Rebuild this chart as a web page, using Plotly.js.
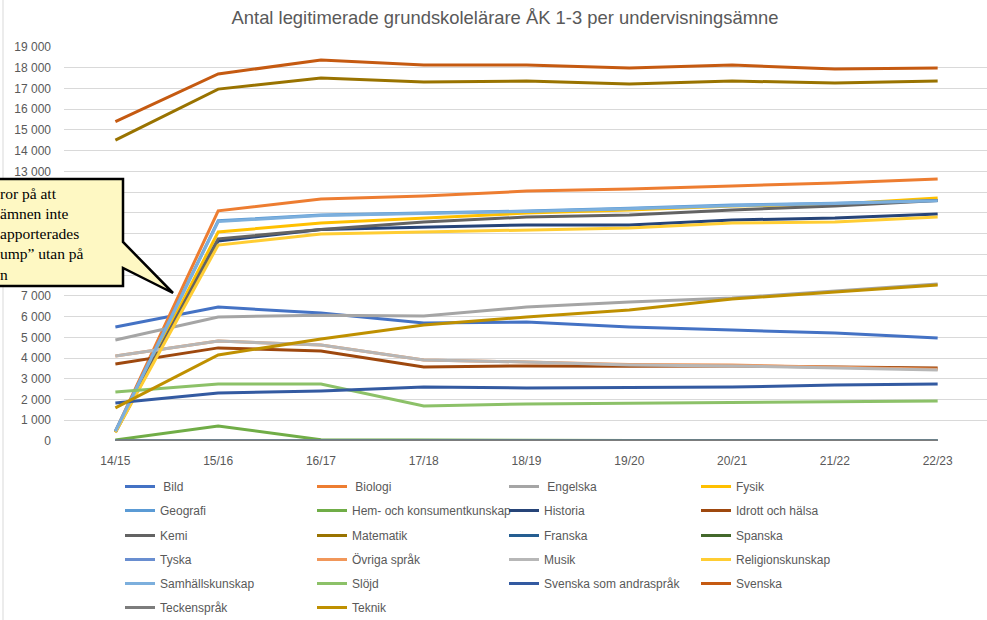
<!DOCTYPE html>
<html>
<head>
<meta charset="utf-8">
<script src="https://cdn.plot.ly/plotly-3.0.1.min.js"></script>
<style>
  html, body { margin: 0; padding: 0; background: #ffffff; }
  #chart { width: 987px; height: 620px; }
</style>
</head>
<body>
<div id="chart"></div>
<script>
// ---- Data ----
const categories = ['14/15', '15/16', '16/17', '17/18', '18/19', '19/20', '20/21', '21/22', '22/23'];

const bild            = [5500, 6460, 6170, 5690, 5740, 5500, 5350, 5210, 4970];
const biologi         = [460, 11100, 11670, 11810, 12050, 12150, 12300, 12440, 12630];
const engelska        = [4870, 5980, 6070, 6030, 6460, 6700, 6900, 7230, 7570];
const fysik           = [440, 10080, 10510, 10750, 10990, 11140, 11330, 11420, 11720];
const geografi        = [480, 10620, 10900, 10990, 11090, 11230, 11380, 11470, 11600];
const hemkonsument    = [50, 720, 60, 50, 40, 0, 0, 0, 0];
const historia        = [420, 9650, 10200, 10320, 10420, 10420, 10660, 10750, 10950];
const idrott          = [3710, 4490, 4340, 3570, 3620, 3600, 3620, 3580, 3520];
const kemi            = [430, 9750, 10200, 10560, 10800, 10900, 11140, 11330, 11600];
const matematik       = [14510, 16970, 17500, 17310, 17360, 17220, 17360, 17260, 17360];
const franska         = [0, 0, 0, 0, 0, 0, 0, 0, 0];
const spanska         = [0, 0, 0, 0, 0, 0, 0, 0, 0];
const tyska           = [0, 0, 0, 0, 0, 0, 0, 0, 0];
const ovrigaSprak     = [4100, 4820, 4630, 3910, 3810, 3690, 3660, 3560, 3460];
const musik           = [4100, 4820, 4630, 3910, 3810, 3670, 3620, 3520, 3420];
const religion        = [410, 9450, 9980, 10080, 10200, 10270, 10510, 10560, 10800];
const samhall         = [470, 10580, 10880, 10970, 11070, 11200, 11350, 11450, 11580];
const slojd           = [2360, 2750, 2750, 1690, 1790, 1830, 1850, 1880, 1930];
const svenskaAndra    = [1830, 2320, 2410, 2600, 2560, 2580, 2600, 2700, 2750];
const svenska         = [15400, 17700, 18370, 18130, 18130, 17990, 18130, 17940, 17990];
const teckensprak     = [0, 0, 0, 0, 0, 0, 0, 0, 0];
const teknik          = [1600, 4150, 4920, 5590, 5980, 6320, 6850, 7190, 7520];

const seriesNames = ['\u00a0Bild', '\u00a0Biologi', '\u00a0Engelska', 'Fysik',
  'Geografi', 'Hem- och konsumentkunskap', 'Historia', 'Idrott och hälsa',
  'Kemi', 'Matematik', 'Franska', 'Spanska',
  'Tyska', 'Övriga språk', 'Musik', 'Religionskunskap',
  'Samhällskunskap', 'Slöjd', 'Svenska som andraspråk', 'Svenska',
  'Teckenspråk', 'Teknik'];
const seriesValues = [bild, biologi, engelska, fysik,
  geografi, hemkonsument, historia, idrott,
  kemi, matematik, franska, spanska,
  tyska, ovrigaSprak, musik, religion,
  samhall, slojd, svenskaAndra, svenska,
  teckensprak, teknik];
const seriesColors = ['#4472C4', '#ED7D31', '#A5A5A5', '#FFC000',
  '#5B9BD5', '#70AD47', '#264478', '#9E480E',
  '#636363', '#997300', '#255E91', '#43682B',
  '#698ED0', '#F1975A', '#B7B7B7', '#FFCD33',
  '#7CAFDD', '#8CC168', '#335AA1', '#C55A11',
  '#7C7C7C', '#BF9000'];

// y-axis ticks; labels hidden behind the callout box in the reference are left blank
const yTickVals = [0, 1000, 2000, 3000, 4000, 5000, 6000, 7000, 8000, 9000, 10000,
                   11000, 12000, 13000, 14000, 15000, 16000, 17000, 18000, 19000];
const yTickText = ['0', '1 000', '2 000', '3 000', '4 000', '5 000', '6 000', '7 000',
                   '', '', '', '', '', '13 000', '14 000', '15 000', '16 000', '17 000',
                   '18 000', '19 000'];

// ---- Geometry helpers (pixel -> paper) ----
const W = 987, H = 620;
const M = { l: 64, r: 0, t: 47, b: 179, autoexpand: false };
const plotW = W - M.l - M.r, plotH = H - M.t - M.b;
const px = p => (p - M.l) / plotW;
const py = p => (H - M.b - p) / plotH;

const legendNames = ['legend', 'legend2', 'legend3', 'legend4', 'legend5', 'legend6'];
const rowCenters = [486.5, 510.5, 535.5, 559.5, 583.5, 607.5];

const traces = seriesNames.map((name, i) => ({
  type: 'scatter',
  mode: 'lines',
  x: categories,
  y: seriesValues[i],
  name: name,
  line: { color: seriesColors[i], width: 3 },
  cliponaxis: false,
  legend: legendNames[Math.floor(i / 4)],
  hoverinfo: 'skip'
}));

const legendFont = { family: 'Liberation Sans, Arial, sans-serif', size: 12, color: '#595959' };
const layout = {
  width: W, height: H,
  margin: M,
  paper_bgcolor: '#ffffff',
  plot_bgcolor: '#ffffff',
  separators: ', ',
  font: { family: 'Liberation Sans, Arial, sans-serif', color: '#595959', size: 12 },
  title: {
    text: 'Antal legitimerade grundskolelärare ÅK 1-3 per undervisningsämne',
    font: { family: 'Liberation Sans, Arial, sans-serif', size: 18.4, color: '#595959' },
    x: px(505), xanchor: 'center', xref: 'paper',
    y: 1 - 18 / H, yanchor: 'middle', yref: 'container'
  },
  xaxis: {
    type: 'category',
    range: [-0.5, 8.48],
    showgrid: false,
    zeroline: false,
    showline: false,
    ticks: '',
    ticklabelstandoff: 11,
    tickfont: { size: 12, color: '#595959' },
    automargin: false,
    fixedrange: true
  },
  yaxis: {
    range: [0, 19000],
    tickmode: 'array',
    tickvals: yTickVals,
    ticktext: yTickText,
    showgrid: true,
    gridcolor: '#D9D9D9',
    gridwidth: 1,
    zeroline: false,
    showline: false,
    ticks: '',
    ticklabelstandoff: 12,
    tickfont: { size: 12, color: '#595959' },
    automargin: false,
    fixedrange: true
  },
  shapes: [
    // chart-area border on the left
    { type: 'line', xref: 'paper', yref: 'paper',
      x0: px(3), x1: px(3), y0: py(0), y1: py(620),
      line: { color: '#D9D9D9', width: 1 }, layer: 'above' },
    // callout box with pointer
    { type: 'path', xref: 'paper', yref: 'paper', layer: 'above',
      path: 'M ' + px(-5) + ' ' + py(179) +
            ' L ' + px(123) + ' ' + py(179) +
            ' L ' + px(123) + ' ' + py(242) +
            ' L ' + px(173) + ' ' + py(293) +
            ' L ' + px(123) + ' ' + py(268) +
            ' L ' + px(123) + ' ' + py(286) +
            ' L ' + px(-5) + ' ' + py(286) + ' Z',
      fillcolor: '#FEF8C3',
      line: { color: '#000000', width: 2.5 } }
  ],
  annotations: [
    { xref: 'paper', yref: 'paper', x: px(-2), y: py(234),
      xanchor: 'left', yanchor: 'middle', align: 'left', showarrow: false,
      text: 'ror på att<br>ämnen inte<br>apporterades<br>ump” utan på<br>n',
      font: { family: 'Liberation Serif, Times New Roman, serif', size: 15.5, color: '#000000' } }
  ],
  showlegend: true,
  hovermode: false
};

legendNames.forEach((ln, r) => {
  layout[ln] = {
    orientation: 'h',
    x: px(120), xanchor: 'left',
    y: py(rowCenters[r]), yanchor: 'middle',
    entrywidth: 147,
    font: legendFont,
    bgcolor: 'rgba(0,0,0,0)',
    borderwidth: 0,
    itemclick: false, itemdoubleclick: false
  };
});

Plotly.newPlot('chart', traces, layout, { displayModeBar: false, staticPlot: true });
</script>
</body>
</html>
